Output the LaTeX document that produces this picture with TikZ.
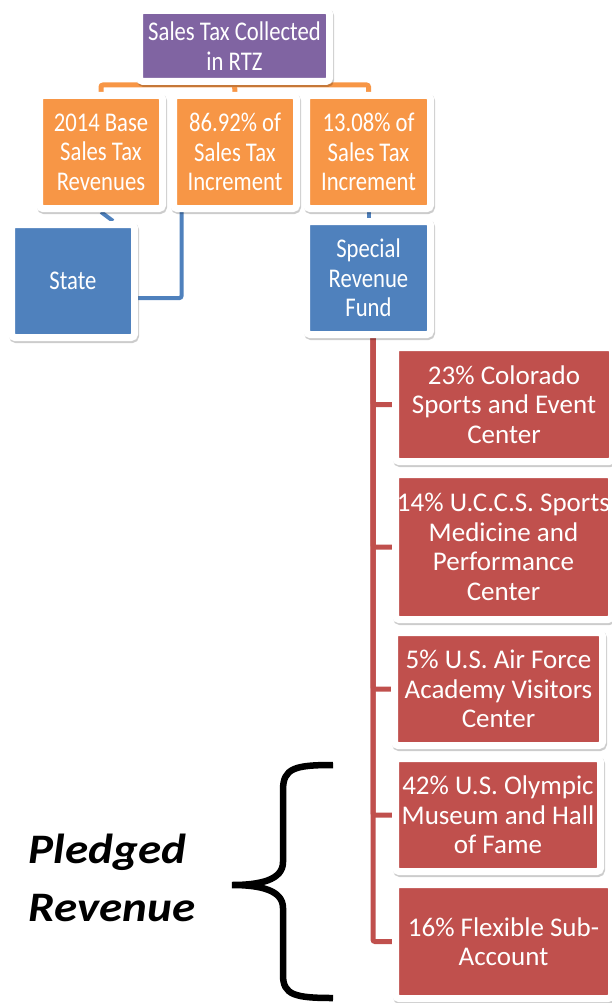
\documentclass[tikz,border=0pt]{standalone}
\usepackage{fontspec}
\setmainfont{Carlito}
\newfontfamily\narrowfont{Carlito}[FakeStretch=0.84]
\usetikzlibrary{backgrounds,shadows}

\definecolor{rtzpurple}{HTML}{8064A2}
\definecolor{rtzorange}{HTML}{F79646}
\definecolor{rtzblue}{HTML}{4F81BD}
\definecolor{rtzred}{HTML}{C0504D}

\tikzset{
  chartbox/.style={rectangle, draw=white, line width=7pt, rounded corners=3.5pt,
    inner sep=0pt, text=white, align=center, font=\narrowfont\fontsize{27}{29.5}\selectfont,
    drop shadow={shadow xshift=1pt, shadow yshift=-2pt, opacity=.2,
      fill=black, draw=black, line width=7pt}},
  accountbox/.style={chartbox, fill=rtzred, font=\rmfamily\fontsize{27}{29.5}\selectfont},
  link/.style={line width=5pt, rounded corners=2pt}
}

\begin{document}
\begin{tikzpicture}[x=1pt,y=-1pt]
\useasboundingbox (0,0) rectangle (611,1003);

% top of the chart
\node[chartbox, fill=rtzpurple, minimum width=190pt, minimum height=71pt] (rtz) at (234.5,46) {Sales Tax Collected\\in RTZ};

\node[chartbox, fill=rtzorange, minimum width=123pt, minimum height=113pt] (base) at (101,152) {2014 Base\\Sales Tax\\Revenues};
\node[chartbox, fill=rtzorange, minimum width=123pt, minimum height=113pt] (incA) at (235,152) {86.92\% of\\Sales Tax\\Increment};
\node[chartbox, fill=rtzorange, minimum width=124pt, minimum height=113pt] (incB) at (368.5,152) {13.08\% of\\Sales Tax\\Increment};

\node[chartbox, fill=rtzblue, minimum width=123pt, minimum height=113pt] (state) at (73,281) {State};
\node[chartbox, fill=rtzblue, minimum width=124pt, minimum height=113pt] (fund) at (368.5,278) {Special\\Revenue\\Fund};

% accounts of the fund
\node[accountbox, minimum width=217pt, minimum height=114pt] (r1) at (504,404.5) {23\% Colorado\\Sports and Event\\Center};
\node[accountbox, minimum width=216pt, minimum height=145pt] (r2) at (503.5,547) {14\% U.C.C.S. Sports\\Medicine and\\Performance\\Center};
\node[accountbox, minimum width=208pt, minimum height=113pt] (r3) at (498.5,689) {5\% U.S. Air Force\\Academy Visitors\\Center};
\node[accountbox, minimum width=205pt, minimum height=113pt] (r4) at (498,815) {42\% U.S. Olympic\\Museum and Hall\\of Fame};
\node[accountbox, minimum width=216pt, minimum height=114pt] (r5) at (503.5,941.5) {16\% Flexible Sub-\\Account};

\begin{scope}[on background layer]
\draw[link, rtzorange] (base.north) -- ++(0,-7) -| (incB.north);
\draw[link, rtzorange] (rtz.south) -- (incA.north);

\draw[link, rtzblue, line width=4pt] (base.south) -- ([xshift=12pt]base.south |- state.north);
\draw[link, rtzblue, line width=4pt] ([xshift=11.5pt]incA.south west) |- ([yshift=-17pt]state.east);
\draw[link, rtzblue, line width=4pt] (incB.south) -- (fund.north);

\coordinate (spine) at ([xshift=4.5pt]fund.south);
\foreach \acct in {r1,r2,r3,r4,r5}
  \draw[link, rtzred] (spine) |- (\acct.west);
\end{scope}

% pledged part
\draw[line width=6.5pt] (333,765) .. controls (295,765) and (283,768) .. (283,790) -- (283,862)
  .. controls (283,880) and (260,885) .. (232,885) .. controls (260,885) and (283,890) .. (283,908)
  -- (283,975) .. controls (283,995) and (295,998) .. (333,998);
\node[inner sep=0pt, align=left, font=\fontsize{42}{58}\selectfont\bfseries\itshape] (pledged) at (112,878)
  {\scalebox{1.12}[1]{Pledged}\\\scalebox{1.12}[1]{Revenue}};

\end{tikzpicture}
\end{document}
